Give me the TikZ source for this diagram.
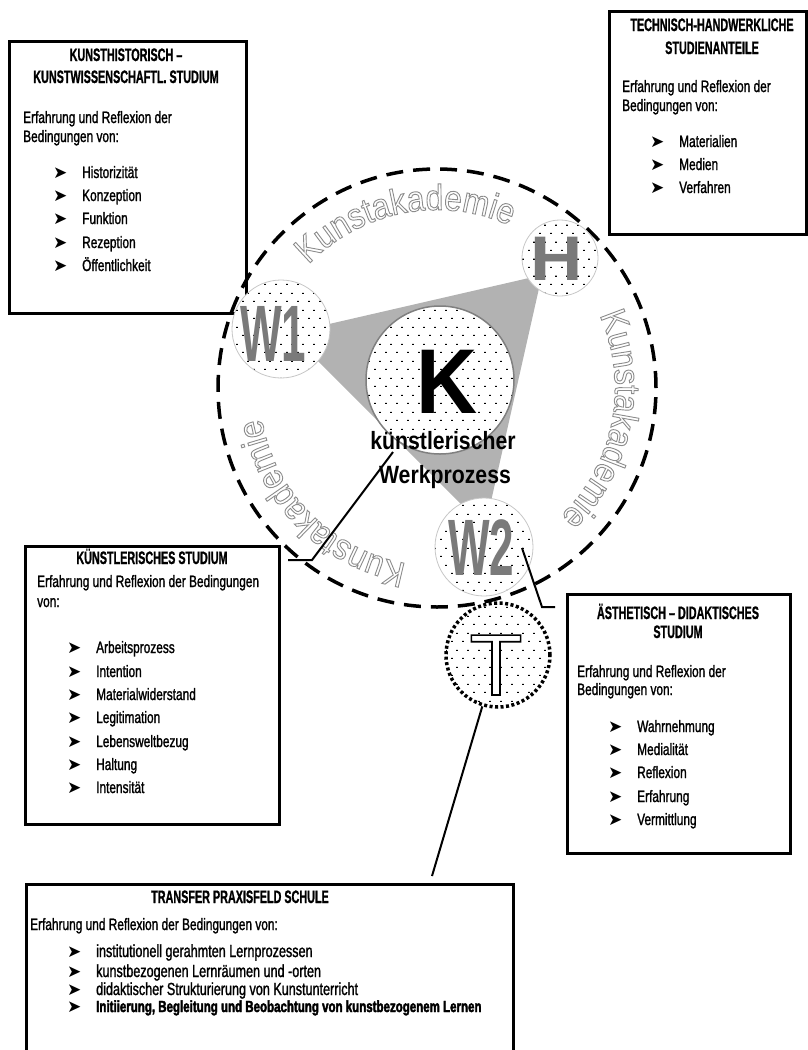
\documentclass[tikz,border=0pt]{standalone}
\usepackage{fontspec}
\usetikzlibrary{patterns.meta,decorations.text,calc}
\setmainfont{Liberation Sans}
\newfontfamily\bodyf{Liberation Sans}[FakeStretch=0.72,FakeBold=1.3]
\newfontfamily\trabf{Liberation Sans}[FakeStretch=0.72,FakeBold=1.3]
\newfontfamily\trabbf{Liberation Sans}[FakeStretch=0.72,FakeBold=2.5]
\newfontfamily\headf{Liberation Sans}[FakeStretch=0.6,FakeBold=1]
\newfontfamily\wf{Liberation Sans}[FakeStretch=0.55]
\newfontfamily\hf{Liberation Sans}[FakeStretch=1.15]
\newfontfamily\kf{Liberation Sans}[FakeStretch=0.92]
\newfontfamily\labf{Liberation Sans}[FakeStretch=0.85]
\newfontfamily\kaf{Liberation Sans}[FakeStretch=0.88]
\newfontfamily\tf{Liberation Sans}
\newfontfamily\bulf{DejaVu Sans}
\newcommand\kaS{\kaf\fontsize{36}{36}\selectfont\special{pdf:literal direct 2 Tr 0.9 w 1 g 0.55 G}}
\newcommand\bl{\makebox[29pt][l]{\bulf\fontsize{17}{17}\selectfont ➤}}
\newcommand\trreset{\special{pdf:literal direct 0 Tr}}
\tikzdeclarepattern{
  name=stip,
  type=uncolored,
  bottom left={(0pt,0pt)},
  top right={(11pt,17pt)},
  tile size={(11pt,17pt)},
  code={
    \fill (0pt,0pt) rectangle (2pt,1.2pt);
    \fill (5.5pt,8.5pt) rectangle (7.5pt,9.7pt);
  }
}
\begin{document}
\begin{tikzpicture}[x=1pt,y=1pt,
  box/.style={draw, line width=2.8pt, inner sep=0pt, anchor=north west},
  ttl/.style={font=\headf\bfseries\fontsize{18}{18}\selectfont, inner sep=0pt, anchor=base},
  bod/.style={font=\bodyf\fontsize{16.5}{16.5}\selectfont, inner sep=0pt, anchor=base west},
  circ/.style={circle, inner sep=0pt, draw=black!22, line width=0.8pt, preaction={fill=white}, pattern=stip, pattern color=black},
  big/.style={inner sep=0pt, anchor=base, execute at begin node={\trreset}},
  conn/.style={line width=2pt},
]
\useasboundingbox (0,0) rectangle (808,-1050);

% ---------- boxes ----------
\node[box, minimum width=237, minimum height=272] (HIS) at (8,-40) {};
\node[box, minimum width=197, minimum height=223] (TEC) at (608,-10) {};
\node[box, minimum width=254, minimum height=278] (KUE) at (24,-545) {};
\node[box, minimum width=223, minimum height=259] (AES) at (566,-593) {};
\node[box, minimum width=487, minimum height=180] (TRA) at (25,-883) {};

% HIS text
\node[ttl] (HIS-t1) at (126,-61) {KUNSTHISTORISCH –};
\node[ttl] (HIS-t2) at (126,-83) {KUNSTWISSENSCHAFTL. STUDIUM};
\node[bod] (HIS-b1) at (23,-123) {Erfahrung und Reflexion der};
\node[bod] (HIS-b2) at (23,-142) {Bedingungen von:};
\foreach \yy/\tx [count=\i] in {178/Historizität,201/Konzeption,224/Funktion,248/Rezeption,271/Öffentlichkeit}
  \node[bod] (HIS-i\i) at (53,-\yy) {\bl\tx};

% TEC text
\node[ttl] (TEC-t1) at (712,-31) {TECHNISCH-HANDWERKLICHE};
\node[ttl] (TEC-t2) at (712,-54) {STUDIENANTEILE};
\node[bod] (TEC-b1) at (622,-92) {Erfahrung und Reflexion der};
\node[bod] (TEC-b2) at (622,-111) {Bedingungen von:};
\foreach \yy/\tx [count=\i] in {147/Materialien,170/Medien,193/Verfahren}
  \node[bod] (TEC-i\i) at (650,-\yy) {\bl\tx};

% KUE text
\node[ttl] (KUE-t1) at (152,-564) {KÜNSTLERISCHES STUDIUM};
\node[bod] (KUE-b1) at (37,-587) {Erfahrung und Reflexion der Bedingungen};
\node[bod] (KUE-b2) at (37,-607) {von:};
\foreach \yy/\tx [count=\i] in {653/Arbeitsprozess,677/Intention,700/Materialwiderstand,723/Legitimation,747/Lebensweltbezug,770/Haltung,793/Intensität}
  \node[bod] (KUE-i\i) at (67,-\yy) {\bl\tx};

% AES text
\node[ttl] (AES-t1) at (678,-619) {ÄSTHETISCH – DIDAKTISCHES};
\node[ttl] (AES-t2) at (678,-638) {STUDIUM};
\node[bod] (AES-b1) at (577,-677) {Erfahrung und Reflexion der};
\node[bod] (AES-b2) at (577,-695) {Bedingungen von:};
\foreach \yy/\tx [count=\i] in {732/Wahrnehmung,755/Medialität,778/Reflexion,802/Erfahrung,825/Vermittlung}
  \node[bod] (AES-i\i) at (608,-\yy) {\bl\tx};

% TRA text
\node[ttl] (TRA-t1) at (240,-903) {TRANSFER PRAXISFELD SCHULE};
\node[bod] (TRA-b1) at (30,-930) {Erfahrung und Reflexion der Bedingungen von:};
\node[bod, font=\trabf\fontsize{17.5}{17.5}\selectfont] (TRA-i1) at (67,-957) {\bl institutionell gerahmten Lernprozessen};
\node[bod, font=\trabf\fontsize{17.5}{17.5}\selectfont] (TRA-i2) at (67,-977) {\bl kunstbezogenen Lernräumen und -orten};
\node[bod, font=\trabf\fontsize{17.5}{17.5}\selectfont] (TRA-i3) at (67,-995) {\bl didaktischer Strukturierung von Kunstunterricht};
\node[bod, font=\trabbf\bfseries\fontsize{16}{16}\selectfont] (TRA-i4) at (67,-1012) {\bl Initiierung, Begleitung und Beobachtung von kunstbezogenem Lernen};

% ---------- central figure ----------
\coordinate (C) at (437,-388);
\draw[line width=3.5pt, dash pattern=on 17pt off 10pt] (C) circle[radius=219];

\foreach \a in {101,-11,225} {
  \path[decorate, decoration={text along path, text align=center,
     text={|\kaS|Kunstakademie}}]
     (C) ++({\a+60}:178) arc[start angle={\a+60}, end angle={\a-60}, radius=178];
}

\fill[black!30] (290,-333) -- (542,-275) -- (485,-528) -- cycle;

\node[circ, minimum size=98] (W1) at (281,-329) {};
\node[circ, minimum size=76] (H) at (560,-258) {};
\node[circ, minimum size=98] (W2) at (484,-547) {};
\node[circ, minimum size=148, draw=black!50, line width=1.5pt] (K) at (440,-380) {};
\node[circ, minimum size=104, draw=black, line width=3.5pt, dash pattern=on 3pt off 2.5pt] (T) at (498,-655) {};

\node[big, font=\kf\bfseries\fontsize{92}{92}\selectfont] (Kl) at (447,-413) {K};
\node[big, text=black!52, font=\wf\bfseries\fontsize{80}{80}\selectfont] (W1l) at (273,-361) {W1};
\node[big, text=black!52, font=\hf\bfseries\fontsize{63}{63}\selectfont] (Hl) at (557,-280) {H};
\node[big, text=black!52, font=\wf\bfseries\fontsize{80}{80}\selectfont] (W2l) at (481,-575) {W2};
\node[big, font=\tf\fontsize{87}{87}\selectfont] (Tl) at (496,-695) {\special{pdf:literal direct 2 Tr 1.6 w 1 g 0 G}T};

\node[big, font=\labf\bfseries\fontsize{25}{25}\selectfont] (KW1) at (443,-449) {künstlerischer};
\node[big, font=\labf\bfseries\fontsize{25}{25}\selectfont] (KW2) at (445,-483) {Werkprozess};

% ---------- connectors ----------
\coordinate (kc0) at (288,-560);
\coordinate (kc1) at (312,-560);
\coordinate (kc2) at (393,-452);
\draw[conn] (kc0) -- (kc1) -- (kc2);
\coordinate (wc0) at (522,-548);
\coordinate (wc1) at (542,-607);
\coordinate (wc2) at (555,-607);
\draw[conn] (wc0) -- (wc1) -- (wc2);
\coordinate (tc1) at (432,-876);
\draw[conn] (T.-107) -- (tc1);
\end{tikzpicture}
\end{document}
